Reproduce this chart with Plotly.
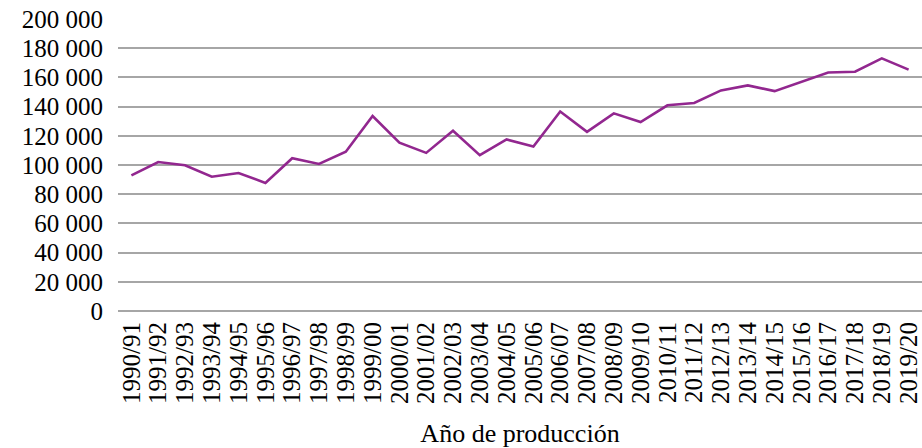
import plotly.graph_objects as go

years = ["1990/91", "1991/92", "1992/93", "1993/94", "1994/95", "1995/96",
         "1996/97", "1997/98", "1998/99", "1999/00", "2000/01", "2001/02",
         "2002/03", "2003/04", "2004/05", "2005/06", "2006/07", "2007/08",
         "2008/09", "2009/10", "2010/11", "2011/12", "2012/13", "2013/14",
         "2014/15", "2015/16", "2016/17", "2017/18", "2018/19", "2019/20"]
production = [92900, 102000, 99800, 92000, 94500, 87700,
              104600, 100700, 109100, 133500, 115300, 108300,
              123400, 106700, 117500, 112700, 136600, 122700,
              135400, 129400, 140900, 142500, 151100, 154500,
              150600, 157000, 163400, 163900, 173000, 165300]
y_ticks = [0, 20000, 40000, 60000, 80000, 100000, 120000, 140000, 160000, 180000, 200000]

fig = go.Figure()
fig.add_trace(go.Scatter(x=years, y=production, mode="lines",
                         line=dict(color="#92278F", width=2.6)))

font = "Liberation Serif"
fig.update_layout(
    width=922, height=448,
    margin=dict(l=118, r=0, t=19, b=137, autoexpand=False),
    paper_bgcolor="white", plot_bgcolor="white",
    showlegend=False,
    separators=", ",
    font=dict(family=font, size=25, color="black"),
    xaxis=dict(
        type="category", tickangle=-90, showgrid=False,
        tickmode="array", tickvals=years, ticktext=years,
        range=[-0.5, len(years) - 0.5], automargin=False,
        showline=False, ticks="", ticklabelstandoff=5,
        tickfont=dict(family=font, size=25, color="black"),
        title=dict(text="Año de producción", standoff=20,
                   font=dict(family=font, size=26, color="black")),
    ),
    yaxis=dict(
        range=[0, 200000], tickvals=y_ticks, tickformat=",d",
        automargin=False,
        showgrid=True, gridcolor="#A6A6A6", gridwidth=1.5,
        zeroline=True, zerolinecolor="#A6A6A6", zerolinewidth=1.5,
        ticks="", ticklabelstandoff=14,
        tickfont=dict(family=font, size=25, color="black"),
    ),
)
fig.write_html("out.html", config={"displayModeBar": False},
               post_script="document.body.style.margin='0';")
